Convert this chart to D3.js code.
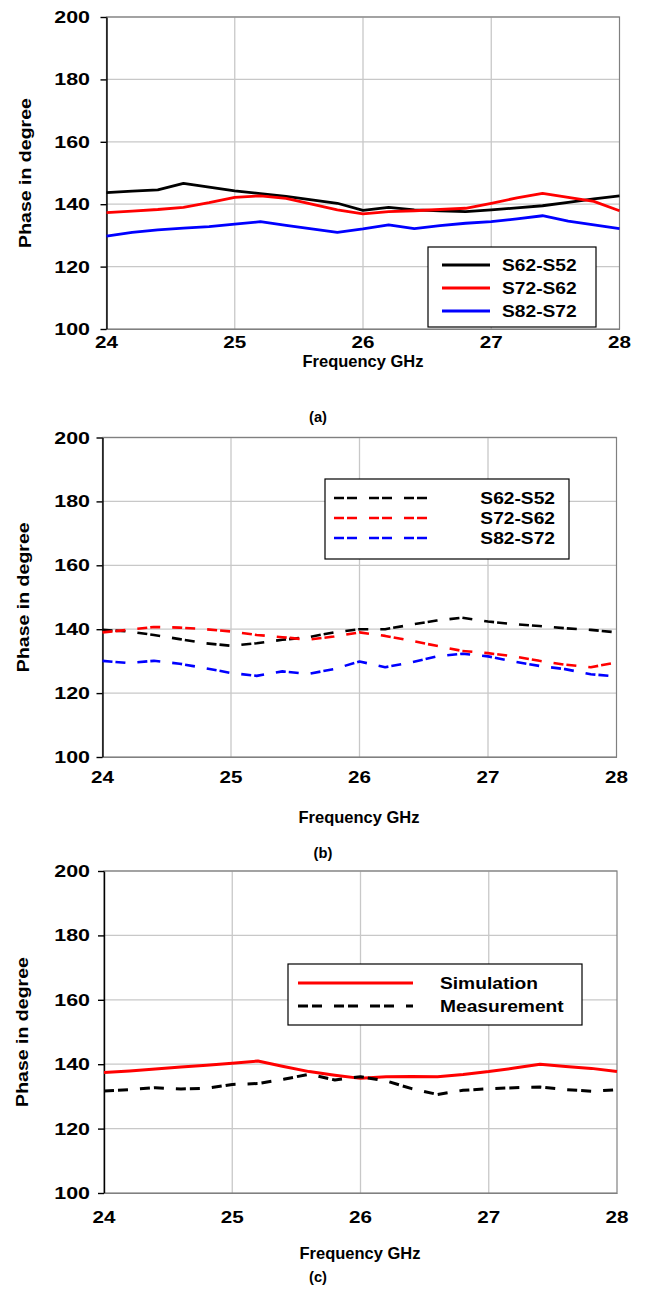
<!DOCTYPE html>
<html>
<head>
<meta charset="utf-8">
<script src="https://cdn.jsdelivr.net/npm/d3@7"></script>
<style>
  body { margin: 0; background: #fff; }
  svg { display: block; font-family: Arial, "Liberation Sans", sans-serif; }
</style>
</head>
<body>
<svg id="chart" width="648" height="1290"></svg>
<script>
// Frequency points (GHz), shared by all three panels
const freq = [24.0, 24.2, 24.4, 24.6, 24.8, 25.0, 25.2, 25.4, 25.6, 25.8, 26.0,
              26.2, 26.4, 26.6, 26.8, 27.0, 27.2, 27.4, 27.6, 27.8, 28.0];

// (a) simulated phase differences
const simS62S52 = [143.7, 144.2, 144.6, 146.7, 145.5, 144.3, 143.4, 142.5, 141.4, 140.3, 138.0,
                   139.0, 138.2, 137.9, 137.6, 138.2, 138.8, 139.5, 140.6, 141.7, 142.7];
const simS72S62 = [137.3, 137.8, 138.3, 139.0, 140.5, 142.2, 142.7, 141.9, 140.0, 138.2, 136.9,
                   137.6, 137.9, 138.3, 138.7, 140.3, 142.0, 143.5, 142.2, 140.9, 137.9];
const simS82S72 = [129.8, 131.0, 131.8, 132.3, 132.8, 133.6, 134.4, 133.2, 132.1, 131.0, 132.1,
                   133.4, 132.2, 133.1, 133.9, 134.4, 135.3, 136.3, 134.6, 133.4, 132.2];

// (b) measured phase differences
const measS62S52 = [139.8, 139.3, 138.2, 136.9, 135.6, 134.8, 135.6, 136.7, 137.5, 139.0, 140.0,
                    140.0, 141.4, 142.7, 143.6, 142.4, 141.6, 141.0, 140.3, 139.8, 139.0];
const measS72S62 = [139.0, 139.8, 140.7, 140.5, 140.0, 139.3, 138.2, 137.5, 136.7, 137.7, 139.0,
                    137.9, 136.4, 134.8, 133.2, 132.5, 131.5, 130.1, 128.9, 128.1, 129.6];
const measS82S72 = [130.1, 129.4, 130.1, 129.2, 127.8, 126.3, 125.4, 126.8, 126.0, 127.5, 129.9,
                    128.1, 129.6, 131.5, 132.3, 131.5, 129.9, 128.5, 127.5, 125.9, 125.2];

// (c) average phase difference
const avgSimulation  = [137.4, 137.9, 138.5, 139.1, 139.7, 140.3, 141.0, 139.3, 137.7, 136.6, 135.6,
                        136.1, 136.2, 136.1, 136.8, 137.7, 138.8, 140.0, 139.3, 138.7, 137.7];
const avgMeasurement = [131.7, 132.1, 132.7, 132.3, 132.5, 133.7, 134.0, 135.3, 136.9, 135.1, 136.1,
                        134.8, 132.4, 130.6, 131.9, 132.4, 132.7, 132.9, 132.1, 131.6, 132.1];

const xTicks = [24, 25, 26, 27, 28];
const yTicks = [100, 120, 140, 160, 180, 200];

const svg = d3.select("#chart");

// glyphs in the original are stretched horizontally, so text gets a scaleX
function label(g, x, y, txt, o = {}) {
  return g.append("text")
    .attr("transform", `translate(${x},${y}) scale(${o.sx ?? 1.3},1)`)
    .attr("text-anchor", o.anchor ?? "middle")
    .attr("font-size", o.size ?? 16)
    .attr("font-weight", o.weight ?? "bold")
    .attr("fill", "#000")
    .text(txt);
}

const panels = [
  {
    box: { left: 106.5, right: 619.5, top: 17, bottom: 329 },
    tickY: 348, titleY: 366.5, titleX: 363, yTitleX: 31, caption: "(a)", capX: 318, capY: 422,
    series: [
      { name: "S62-S52", values: simS62S52, color: "#000", dash: null },
      { name: "S72-S62", values: simS72S62, color: "#ff0000", dash: null },
      { name: "S82-S72", values: simS82S72, color: "#0000ff", dash: null },
    ],
    legend: { x: 428, y: 247, w: 168, h: 80, lx0: 14, lx1: 62, tx: 74, anchor: "start", row0: 18, rowH: 23 },
    width: 2.8,
  },
  {
    box: { left: 102.5, right: 616.5, top: 437.5, bottom: 757 },
    tickY: 782.5, titleY: 822.5, titleX: 359, yTitleX: 29, caption: "(b)", capX: 323, capY: 858,
    series: [
      { name: "S62-S52", values: measS62S52, color: "#000", dash: "10,3,10,12" },
      { name: "S72-S62", values: measS72S62, color: "#ff0000", dash: "10,3,10,12" },
      { name: "S82-S72", values: measS82S72, color: "#0000ff", dash: "10,3,10,12" },
    ],
    legend: { x: 325, y: 479, w: 244, h: 80, lx0: 9, lx1: 110, tx: 230, anchor: "end", row0: 19, rowH: 20 },
    width: 2.6,
  },
  {
    box: { left: 104, right: 617, top: 871, bottom: 1193 },
    tickY: 1222.5, titleY: 1258.5, titleX: 360, yTitleX: 28, caption: "(c)", capX: 318, capY: 1282,
    series: [
      { name: "Simulation", values: avgSimulation, color: "#ff0000", dash: null },
      { name: "Measurement", values: avgMeasurement, color: "#000", dash: "10,4,10,12" },
    ],
    legend: { x: 288, y: 964, w: 294, h: 61, lx0: 10, lx1: 125, tx: 152, anchor: "start", row0: 19, rowH: 23 },
    width: 3,
  },
];

panels.forEach((p) => {
  const b = p.box;
  const x = d3.scaleLinear().domain([24, 28]).range([b.left, b.right]);
  const y = d3.scaleLinear().domain([100, 200]).range([b.bottom, b.top]);
  const g = svg.append("g");

  // grid
  g.append("g").selectAll("line").data(yTicks.slice(1)).join("line")
    .attr("x1", b.left).attr("x2", b.right)
    .attr("y1", (d) => y(d)).attr("y2", (d) => y(d))
    .attr("stroke", "#c8c8c8").attr("stroke-width", 1.3);
  g.append("g").selectAll("line").data(xTicks.slice(1, -1)).join("line")
    .attr("x1", (d) => x(d)).attr("x2", (d) => x(d))
    .attr("y1", b.top).attr("y2", b.bottom)
    .attr("stroke", "#c8c8c8").attr("stroke-width", 1.3);

  // plot frame
  g.append("rect")
    .attr("x", b.left).attr("y", b.top)
    .attr("width", b.right - b.left).attr("height", b.bottom - b.top)
    .attr("fill", "none").attr("stroke", "#808080").attr("stroke-width", 1.2);

  // y axis (black, ticks outside)
  const yAxis = g.append("g").attr("transform", `translate(${b.left},0)`)
    .call(d3.axisLeft(y).tickValues(yTicks).tickSize(6).tickSizeOuter(0).tickFormat(""));
  yAxis.selectAll("path,line").attr("stroke", "#000").attr("stroke-width", 1.4);
  yTicks.forEach((t) => label(g, 90, y(t) + 6, String(t), { anchor: "end", size: 16.5, sx: 1.3 }));

  // x axis
  const xAxis = g.append("g").attr("transform", `translate(0,${b.bottom})`)
    .call(d3.axisBottom(x).tickValues(xTicks).tickSize(0).tickSizeOuter(0).tickFormat(""));
  xAxis.selectAll("path").attr("stroke", "#808080").attr("stroke-width", 1.2);
  xTicks.forEach((t) => label(g, x(t), p.tickY, String(t), { size: 16.5, sx: 1.25 }));

  label(g, p.titleX, p.titleY, "Frequency GHz", { size: 16.5, sx: 1.0 });
  label(g, p.capX, p.capY, p.caption, { size: 14, sx: 1.05 });

  g.append("text")
    .attr("transform", `translate(${p.yTitleX},${(b.top + b.bottom) / 2}) rotate(-90) scale(1.15,1)`)
    .attr("text-anchor", "middle")
    .attr("font-size", 17).attr("font-weight", "bold")
    .text("Phase in degree");

  // series
  const line = d3.line().x((d, i) => x(freq[i])).y((d) => y(d));
  p.series.forEach((s) => {
    g.append("path").datum(s.values)
      .attr("d", line)
      .attr("fill", "none")
      .attr("stroke", s.color)
      .attr("stroke-width", p.width)
      .attr("stroke-dasharray", s.dash)
      .attr("stroke-linejoin", "round");
  });

  // legend
  const L = p.legend;
  const lg = g.append("g").attr("transform", `translate(${L.x},${L.y})`);
  lg.append("rect").attr("width", L.w).attr("height", L.h)
    .attr("fill", "#fff").attr("stroke", "#000").attr("stroke-width", 1.2);
  p.series.forEach((s, i) => {
    const ry = L.row0 + i * L.rowH;
    lg.append("line").attr("x1", L.lx0).attr("x2", L.lx1).attr("y1", ry).attr("y2", ry)
      .attr("stroke", s.color).attr("stroke-width", p.width).attr("stroke-dasharray", s.dash);
    label(lg, L.tx, ry + 6, s.name, { anchor: L.anchor, size: 16, sx: 1.2 });
  });
});
</script>
</body>
</html>
